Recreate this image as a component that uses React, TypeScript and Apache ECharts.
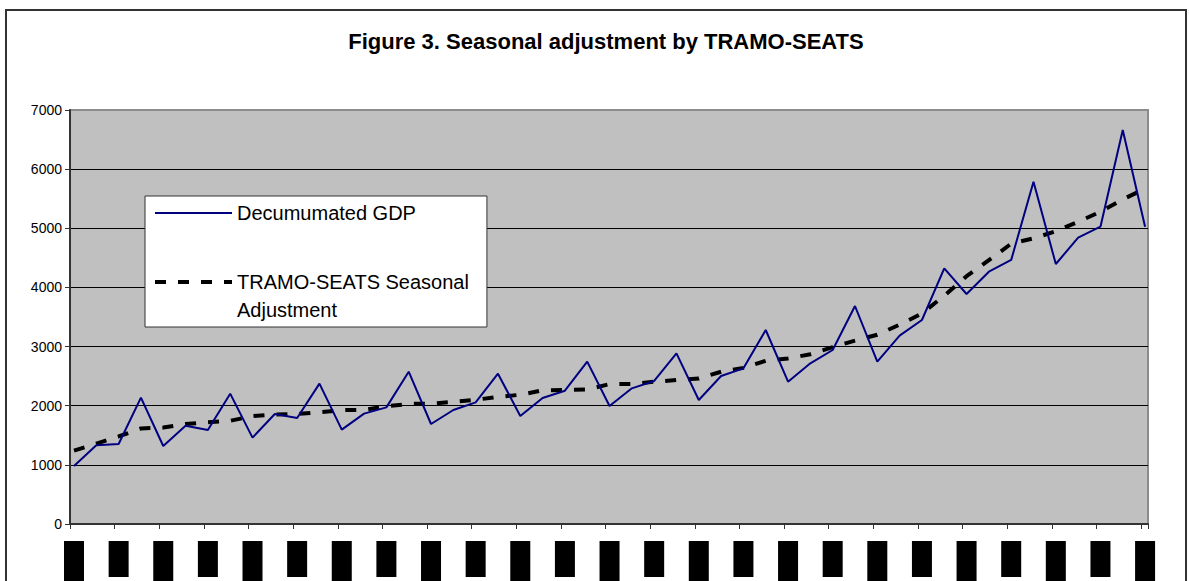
import { useEffect, useRef } from "react";
import * as echarts from "echarts";

const TITLE = "Figure 3. Seasonal adjustment by TRAMO-SEATS";
const SERIES_GDP = "Decumumated GDP";
const SERIES_SA = "TRAMO-SEATS Seasonal Adjustment";
const LEGEND_SA_TEXT = "\nTRAMO-SEATS Seasonal\nAdjustment";

// Quarterly values, 49 periods
const GDP = [
  980, 1330, 1353, 2136, 1319, 1663, 1590, 2204, 1460, 1860, 1792, 2373,
  1595, 1866, 1972, 2575, 1691, 1928, 2057, 2542, 1826, 2130, 2254, 2745,
  1995, 2294, 2418, 2886, 2097, 2503, 2632, 3280, 2406, 2717, 2942, 3686,
  2745, 3184, 3449, 4323, 3889, 4266, 4464, 5788, 4396, 4841, 5027, 6662,
  5027,
];
const SA = [
  1240, 1360, 1480, 1615, 1630, 1690, 1720, 1745, 1825, 1850, 1860, 1890,
  1925, 1930, 1990, 2030, 2035, 2065, 2100, 2150, 2185, 2260, 2265, 2275,
  2365, 2367, 2405, 2435, 2460, 2575, 2640, 2760, 2800, 2870, 2990, 3100,
  3200, 3370, 3560, 3860, 4190, 4460, 4740, 4830, 4950, 5110, 5280, 5490,
  5670,
];
const Y_MIN = 0;
const Y_MAX = 7000;
const Y_STEP = 1000;
const X_LABEL_STEP = 2;

export default function App() {
  const ref = useRef<HTMLDivElement>(null);
  useEffect(() => {
    const chart = echarts.init(ref.current!, null, { renderer: "svg" });
    const font = "'Liberation Sans', Arial, sans-serif";
    const shift = 0.179; // category offset from the tick marks
    const xMax = 48.31;
    const gdpLine = { color: "#000080", width: 2 };
    const saLine = { color: "#000", width: 4, type: [11, 12], cap: "butt" };
    const splitColors: string[] = [];
    for (let v = Y_MIN; v <= Y_MAX; v += Y_STEP) splitColors.push(v === Y_MAX ? "#8c8c8c" : "#000");
    const option: any = {
      animation: false,
      backgroundColor: "#fff",
      title: {
        text: TITLE,
        left: 601,
        textAlign: "center",
        top: 25,
        textStyle: { fontFamily: font, fontSize: 22, fontWeight: "bold", color: "#000" },
      },
      graphic: [
        {
          type: "rect",
          shape: { x: 6, y: 10, width: 1180, height: 640 },
          style: { fill: "none", stroke: "#333", lineWidth: 2 },
          silent: true,
        },
      ],
      grid: {
        left: 70,
        top: 110,
        right: 41,
        bottom: 57,
        outerBoundsMode: "none",
        containLabel: false,
        show: true,
        backgroundColor: "#c0c0c0",
        borderColor: "#8c8c8c",
        borderWidth: 2,
      },
      legend: {
        orient: "vertical",
        left: 145,
        top: 196,
        padding: [3, 18, 3, 8],
        itemGap: 13,
        itemWidth: 77,
        itemHeight: 14,
        backgroundColor: "#fff",
        borderColor: "#333",
        borderWidth: 1,
        selectedMode: false,
        itemStyle: { opacity: 0 },
        data: [
          { name: SERIES_GDP, lineStyle: gdpLine, itemStyle: { opacity: 0 } },
          { name: SERIES_SA, lineStyle: saLine, itemStyle: { opacity: 0 } },
        ],
        formatter: (name: string) => (name === SERIES_SA ? LEGEND_SA_TEXT : name),
        textStyle: { fontFamily: font, fontSize: 20, lineHeight: 28, color: "#000" },
      },
      xAxis: {
        type: "value",
        min: 0,
        max: xMax,
        interval: X_LABEL_STEP,
        splitLine: { show: false },
        axisLine: { show: true, onZero: false, lineStyle: { color: "#333", width: 2 } },
        axisTick: { show: true, length: 5, lineStyle: { color: "#333", width: 1 } },
        axisLabel: {
          margin: 17,
          padding: [0, 0, 0, 8],
          formatter: (v: number) => {
            const r = Math.round(v);
            if (Math.abs(v - r) > 1e-6 || r % X_LABEL_STEP !== 0) return "";
            return (r / X_LABEL_STEP) % 2 === 0 ? "{a| }" : "{b| }";
          },
          rich: {
            a: { backgroundColor: "#000", width: 20, height: 46, fontSize: 10 },
            b: { backgroundColor: "#000", width: 20, height: 36, fontSize: 10 },
          },
        },
      },
      yAxis: {
        type: "value",
        min: Y_MIN,
        max: Y_MAX,
        interval: Y_STEP,
        axisLine: { show: true, lineStyle: { color: "#333", width: 2 } },
        axisTick: { show: true, length: 5, lineStyle: { color: "#333", width: 1 } },
        axisLabel: {
          margin: 8,
          fontFamily: font,
          fontSize: 14,
          color: "#000",
          formatter: (v: number) => String(v),
        },
        splitLine: { show: true, lineStyle: { color: splitColors, width: 1 } },
      },
      series: [
        {
          name: SERIES_GDP,
          type: "line",
          symbol: "none",
          data: GDP.map((v, i) => [i + shift, v]),
          lineStyle: gdpLine,
          itemStyle: { color: "#000080" },
          z: 3,
        },
        {
          name: SERIES_SA,
          type: "line",
          symbol: "none",
          data: SA.map((v, i) => [i + shift, v]),
          lineStyle: saLine,
          itemStyle: { color: "#000" },
          z: 2,
        },
      ],
    };
    chart.setOption(option);
    return () => chart.dispose();
  }, []);
  return (
    <div
      ref={ref}
      style={{ position: "fixed", left: 0, top: 0, width: 1189, height: 581, background: "#fff" }}
    />
  );
}
